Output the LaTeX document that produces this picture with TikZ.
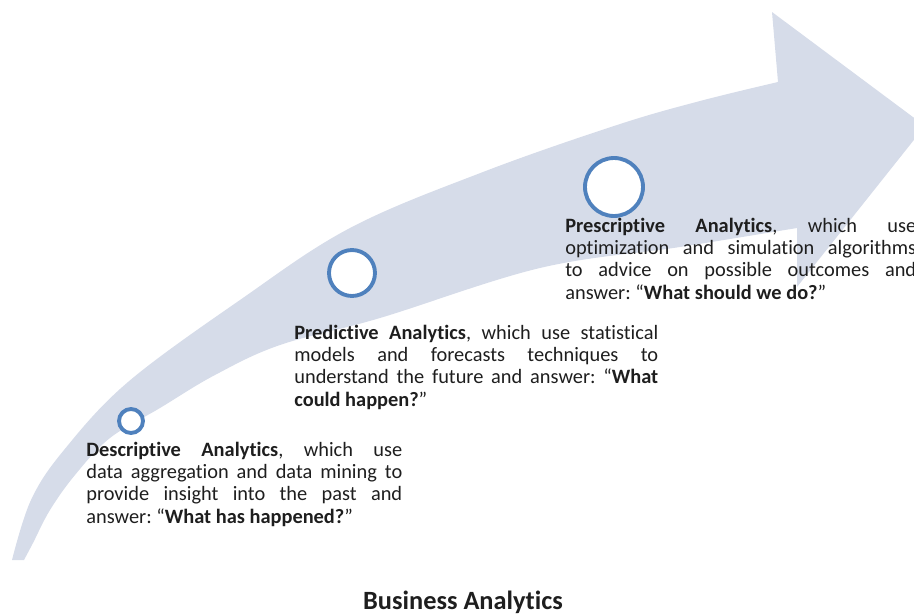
\documentclass[tikz,border=0pt]{standalone}
\usepackage{fontspec}
\setmainfont{Carlito}[Ligatures={NoCommon}]
\definecolor{arrowfill}{RGB}{214,220,233}
\definecolor{ringblue}{RGB}{79,129,189}
\definecolor{textgray}{RGB}{30,30,30}
\tolerance=10000
\hyphenpenalty=10000
\frenchspacing

\begin{document}
\begin{tikzpicture}[x=0.02cm,y=-0.02cm,
    stage/.style={anchor=base west, inner sep=0pt, align=justify, text=textgray,
                  font=\fontsize{11.6}{12.8}\selectfont},
    ring/.style={circle, draw=ringblue, line width=2.2pt, fill=white, inner sep=0pt}]
    \useasboundingbox (0,0) rectangle (914,613);

    % Curved arrow
    \fill[arrowfill] plot[smooth, tension=0.6] coordinates {(12,560) (31,500) (64,450) (128,382)
            (240,300) (350,228) (483,172) (617,125) (700,101) (778,82)}
        -- (772,12) -- (925,126) -- (797,287)
        -- plot[smooth, tension=0.6] coordinates {(797,228) (680,247) (540,268) (380,318)
            (280,345) (215,375) (160,408) (110,438) (75,475) (50,510) (33,543) (24,560)}
        -- cycle;

    % Rings
    \node[ring, minimum size=0.48cm] (ringdesc) at (131,421) {};
    \node[ring, minimum size=0.92cm] (ringpred) at (352,273) {};
    \node[ring, minimum size=1.16cm] (ringpres) at (614,187) {};

    % Stages
    \node[stage, text width=6.32cm] (descr) at (86,456)
        {\textbf{Descriptive Analytics}, which use\linebreak
         data aggregation and data mining to\linebreak
         provide insight into the past and\linebreak
         answer: “\textbf{What has happened?}”};
    \node[stage, text width=7.28cm] (predi) at (294,339)
        {\textbf{Predictive Analytics}, which use statistical\linebreak
         models and forecasts techniques to\linebreak
         understand the future and answer: “\textbf{What}\linebreak
         \textbf{could happen?}”};
    \node[stage, text width=7.02cm] (presc) at (565,232)
        {\textbf{Prescriptive Analytics}, which use\linebreak
         optimization and simulation algorithms\linebreak
         to advice on possible outcomes and\linebreak
         answer: “\textbf{What should we do?}”};

    % Title
    \node[anchor=base, text=textgray, font=\fontsize{15}{18}\selectfont\bfseries] (title)
        at (463,609) {Business Analytics};
\end{tikzpicture}
\end{document}
